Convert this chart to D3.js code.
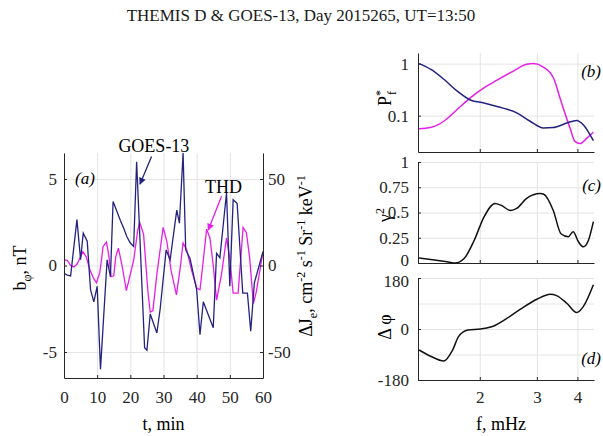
<!DOCTYPE html>
<html>
<head>
<meta charset="utf-8">
<script src="https://cdn.jsdelivr.net/npm/d3@7"></script>
<style>
  body { margin: 0; background: #fff; }
  svg { font-family: "Liberation Serif", "Times New Roman", serif; }
  .grid line { stroke: #e4e4e4; stroke-width: 1; }
  .grid .domain { display: none; }
  .axis .domain, .axis line { stroke: #262626; }
  .axis text { font-size: 17px; fill: #262626; font-family: "Liberation Serif", serif; }
</style>
</head>
<body>
<div id="chart"></div>
<script>
// panel (a): GOES-13 b_phi (nT) and THD electron flux (right axis)
const goesT = [0, 1, 2, 3.9, 5, 5.8, 7, 8, 9, 10, 11, 13, 14, 14.8, 16, 17, 18, 19, 20, 21, 21.9, 24.3, 25, 26, 28, 29, 30.8, 32, 34, 34.8, 35.9, 36.7, 38, 39, 40, 41, 42, 45, 46, 47, 49, 50, 51, 52.2, 53.9, 55.3, 56.3, 57.4, 60];
const goesB = [-0.45, -0.55, -0.6, 2.65, 0.33, 1.87, 1.4, -1.4, -2.1, -1.2, -6.0, 0.33, -0.65, 3.7, 3.1, 2.6, 2.15, 1.65, 1.3, 1.1, 6.0, -4.75, -4.9, -2.8, -3.9, -2.5, 0.9, 0.33, 3.2, 2.45, 6.5, 0.9, 0.4, -0.5, -1.4, -4.0, -2.1, -3.6, 0.7, 0.45, 4.2, -1.2, 3.8, 3.6, -1.6, -1.6, -3.8, -1.0, 0.8];
const thdT = [0, 1, 2, 3, 4, 5.7, 6.7, 7.8, 8.8, 9.8, 10.8, 11.8, 12.8, 13.5, 14.2, 15, 15.6, 16.4, 17.5, 18.8, 20, 21, 22.2, 22.8, 24, 25.3, 26, 26.8, 28, 29.9, 31, 32.3, 33.9, 35, 35.9, 37, 38.5, 40, 41, 42, 43, 44, 45, 46, 47.5, 49, 50, 51, 52.5, 54, 55, 56, 57.1, 58, 60];
const thdJ = [3.3, 3, 0, -0.8, 1, 8, 5, -2.5, -7, -10, -4, 11, 13.5, 6, -6.5, -6, 5, 10, 0, -14.5, -5, 3, 20, 25, 18, -15, -27, -26, -5, 22, 14, -3, -17, -2, 13, 9, -3, -13, -14, 3, 21, 16, 0, -20, -5, 16, 4, -16, -16, 22, 19, 4, -22, -15, 8];

// panel (b): normalised spectra
const goesSpecF = [1.30, 1.41, 1.55, 1.70, 1.87, 2.06, 2.26, 2.61, 2.86, 3.14, 3.37, 3.71, 3.98, 4.17, 4.48];
const goesSpec = [1.0, 0.78, 0.5, 0.3, 0.2, 0.175, 0.15, 0.112, 0.078, 0.058, 0.059, 0.072, 0.081, 0.067, 0.033];
const thdSpecF = [1.30, 1.41, 1.55, 1.70, 1.87, 2.06, 2.26, 2.54, 2.79, 2.93, 3.14, 3.37, 3.56, 3.81, 3.93, 4.08, 4.28, 4.48];
const thdSpec = [0.056, 0.059, 0.078, 0.13, 0.22, 0.34, 0.48, 0.72, 0.97, 1.0, 0.86, 0.54, 0.19, 0.054, 0.032, 0.029, 0.037, 0.048];

// panel (c): coherence
const cohF = [1.30, 1.45, 1.60, 1.68, 1.79, 1.92, 2.06, 2.23, 2.33, 2.49, 2.60, 2.79, 3.07, 3.15, 3.37, 3.56, 3.75, 3.88, 4.03, 4.17, 4.32, 4.48];
const coh = [0.05, 0.03, 0.01, 0.0, 0.044, 0.22, 0.455, 0.59, 0.57, 0.52, 0.54, 0.64, 0.687, 0.68, 0.52, 0.29, 0.26, 0.31, 0.21, 0.16, 0.22, 0.41];

// panel (d): phase difference
const phaseF = [1.30, 1.41, 1.55, 1.65, 1.72, 1.84, 2.01, 2.21, 2.43, 2.67, 3.00, 3.30, 3.45, 3.71, 3.98, 4.17, 4.48];
const phase = [-74, -96, -113, -74, -27, -3.5, 0, 10.6, 38, 70, 105, 123, 118, 91, 58, 79, 156];

// ticks
const tTicks = [0, 10, 20, 30, 40, 50, 60];
const bTicks = [-5, 0, 5];
const jTicks = [-50, 0, 50];
const fTicks = [2, 3, 4];
const pTicks = [0.1, 1];
const cohTicks = [0, 0.25, 0.5, 0.75, 1];
const phGrid = [-180, -90, 0, 90, 180];
const phTicks = [-180, 0, 180];

const width = 603, height = 436;
const blue = '#23237f', magenta = '#e61ee6';
const plain = d => String(d);   // hyphen minus, like the original

const svg = d3.select('#chart').append('svg')
    .attr('width', width)
    .attr('height', height);

svg.append('text')
    .attr('x', 301).attr('y', 21)
    .attr('text-anchor', 'middle')
    .style('font-size', '17px')
    .attr('fill', '#1a1a1a')
    .text('THEMIS D & GOES-13, Day 2015265, UT=13:50');

const defs = svg.append('defs');
[['headBlue', blue], ['headMag', magenta]].forEach(([id, c]) => {
    defs.append('marker')
        .attr('id', id)
        .attr('viewBox', '0 0 10 10')
        .attr('refX', 9).attr('refY', 5)
        .attr('markerWidth', 9).attr('markerHeight', 7)
        .attr('markerUnits', 'userSpaceOnUse')
        .attr('orient', 'auto')
        .append('path').attr('d', 'M0,0 L10,5 L0,10 z').attr('fill', c);
});

// ---------- panel (a) ----------
const a = {left: 64, right: 263, top: 153, bottom: 378};
const aw = a.right - a.left, ah = a.bottom - a.top;
const xT = d3.scaleLinear().domain([0, 60]).range([a.left, a.right]);
const yB = d3.scaleLinear().domain([-6.5, 6.5]).range([a.bottom, a.top]);
const yJ = d3.scaleLinear().domain([-65, 65]).range([a.bottom, a.top]);

svg.append('g').attr('class', 'grid')
    .attr('transform', `translate(0,${a.bottom})`)
    .call(d3.axisBottom(xT).tickValues(tTicks).tickSize(-ah).tickFormat(''));
svg.append('g').attr('class', 'grid')
    .attr('transform', `translate(${a.left},0)`)
    .call(d3.axisLeft(yB).tickValues(bTicks).tickSize(-aw).tickFormat(''));

const thdLine = d3.line().x(i => xT(thdT[i])).y(i => yJ(thdJ[i]));
svg.append('path')
    .attr('d', thdLine(d3.range(thdT.length)))
    .attr('fill', 'none').attr('stroke', magenta).attr('stroke-width', 1.3);

const goesLine = d3.line().x(i => xT(goesT[i])).y(i => yB(goesB[i]));
svg.append('path')
    .attr('d', goesLine(d3.range(goesT.length)))
    .attr('fill', 'none').attr('stroke', blue).attr('stroke-width', 1.3);

svg.append('g').attr('class', 'axis')
    .attr('transform', `translate(0,${a.bottom})`)
    .call(d3.axisBottom(xT).tickValues(tTicks).tickSizeInner(-3).tickSizeOuter(0)
        .tickPadding(13).tickFormat(plain));
svg.append('g').attr('class', 'axis')
    .attr('transform', `translate(${a.left},0)`)
    .call(d3.axisLeft(yB).tickValues(bTicks).tickSizeInner(-3).tickSizeOuter(0)
        .tickPadding(7).tickFormat(plain));
const rightAx = svg.append('g').attr('class', 'axis')
    .attr('transform', `translate(${a.right},0)`)
    .call(d3.axisRight(yJ).tickValues(jTicks).tickSizeInner(-3).tickSizeOuter(0)
        .tickPadding(5).tickFormat(plain));
rightAx.selectAll('.domain, line').attr('stroke', '#9a9a9a');

svg.append('text')
    .attr('x', a.left + 11).attr('y', 184)
    .style('font-size', '17px').style('font-style', 'italic')
    .text('(a)');

// annotations
svg.append('line')
    .attr('x1', xT(26.4)).attr('y1', yB(6.3))
    .attr('x2', xT(22.9)).attr('y2', yB(4.7))
    .attr('stroke', blue).attr('stroke-width', 1.3)
    .attr('marker-end', 'url(#headBlue)');
svg.append('text')
    .attr('x', xT(27.1)).attr('y', yB(6.55))
    .attr('text-anchor', 'middle')
    .style('font-size', '18px')
    .text('GOES-13');

svg.append('line')
    .attr('x1', xT(47.5)).attr('y1', yJ(40))
    .attr('x2', xT(43.5)).attr('y2', yJ(20.5))
    .attr('stroke', magenta).attr('stroke-width', 1.3)
    .attr('marker-end', 'url(#headMag)');
svg.append('text')
    .attr('x', xT(48.1)).attr('y', yJ(41.9))
    .attr('text-anchor', 'middle')
    .style('font-size', '18px')
    .text('THD');

// axis labels (a)
svg.append('text')
    .attr('x', (a.left + a.right) / 2).attr('y', 430)
    .attr('text-anchor', 'middle')
    .style('font-size', '18px')
    .text('t, min');

const bl = svg.append('text')
    .attr('transform', 'translate(26,268) rotate(-90)')
    .attr('text-anchor', 'middle')
    .style('font-size', '18px');
bl.append('tspan').text('b');
bl.append('tspan').attr('dy', 5).style('font-size', '12px').text('φ');
bl.append('tspan').attr('dy', -5).text(', nT');

const jl = svg.append('text')
    .attr('transform', 'translate(312,256) rotate(-90)')
    .attr('text-anchor', 'middle')
    .style('font-size', '18px');
jl.append('tspan').text('ΔJ');
jl.append('tspan').attr('dy', 5).style('font-size', '12px').text('e');
jl.append('tspan').attr('dy', -5).text(', cm');
jl.append('tspan').attr('dy', -7).style('font-size', '12px').text('-2');
jl.append('tspan').attr('dy', 7).text(' s');
jl.append('tspan').attr('dy', -7).style('font-size', '12px').text('-1');
jl.append('tspan').attr('dy', 7).text(' Sr');
jl.append('tspan').attr('dy', -7).style('font-size', '12px').text('-1');
jl.append('tspan').attr('dy', 7).text(' keV');
jl.append('tspan').attr('dy', -7).style('font-size', '12px').text('-1');

// ---------- right panels ----------
const r = {left: 418, right: 594};
const xF = d3.scaleLog().domain([1.29, 4.5]).range([r.left, r.right]);

function panel(top, bottom, y, gridVals, tickVals, showX) {
    svg.append('g').attr('class', 'grid')
        .attr('transform', `translate(0,${bottom})`)
        .call(d3.axisBottom(xF).tickValues(fTicks).tickSize(-(bottom - top)).tickFormat(''));
    svg.append('g').attr('class', 'grid')
        .attr('transform', `translate(${r.left},0)`)
        .call(d3.axisLeft(y).tickValues(gridVals).tickSize(-(r.right - r.left)).tickFormat(''));
    svg.append('g').attr('class', 'axis')
        .attr('transform', `translate(0,${bottom})`)
        .call(d3.axisBottom(xF).tickValues(fTicks).tickSizeInner(-3).tickSizeOuter(0)
            .tickPadding(11).tickFormat(showX ? plain : ''));
    return svg.append('g').attr('class', 'axis')
        .attr('transform', `translate(${r.left},0)`)
        .call(d3.axisLeft(y).tickValues(tickVals).tickSizeInner(-3).tickSizeOuter(0)
            .tickPadding(9).tickFormat(plain));
}

const drawCurve = (xs, ys, y, color) => {
    const line = d3.line().curve(d3.curveMonotoneX)
        .x(i => xF(xs[i])).y(i => y(ys[i]));
    svg.append('path')
        .attr('d', line(d3.range(xs.length)))
        .attr('fill', 'none').attr('stroke', color).attr('stroke-width', 1.5);
};

// (b)
const yP = d3.scaleLog().domain([0.02, 1.6]).range([152, 53]);
panel(53, 152, yP, pTicks, pTicks, false);
drawCurve(thdSpecF, thdSpec, yP, magenta);
drawCurve(goesSpecF, goesSpec, yP, blue);

// (c)
const yC = d3.scaleLinear().domain([0, 1]).range([263, 162]);
const cAx = panel(162, 263, yC, cohTicks, cohTicks, false);
drawCurve(cohF, coh, yC, '#111');
// the "0" of (c) and "180" of (d) sit very close, as in the original
cAx.selectAll('.tick text').filter(d => d === 0).attr('dy', '0.12em');

// (d)
const yD = d3.scaleLinear().domain([-180, 180]).range([380, 278]);
const dAx = panel(278, 380, yD, phGrid, phTicks, true);
drawCurve(phaseF, phase, yD, '#111');
dAx.selectAll('.tick text').filter(d => d === 180).attr('dy', '0.5em');

// panel letters
[['(b)', 77], ['(c)', 191], ['(d)', 364]].forEach(([t, y]) => {
    svg.append('text')
        .attr('x', 601).attr('y', y)
        .attr('text-anchor', 'end')
        .style('font-size', '17px').style('font-style', 'italic')
        .text(t);
});

// right panel labels
svg.append('text')
    .attr('x', (r.left + r.right) / 2 - 5).attr('y', 430)
    .attr('text-anchor', 'middle')
    .style('font-size', '18px')
    .text('f, mHz');

const pl = svg.append('text')
    .attr('transform', 'translate(391,98) rotate(-90)')
    .attr('text-anchor', 'middle')
    .style('font-size', '18px');
pl.append('tspan').text('P');
pl.append('tspan').attr('dy', -7).style('font-size', '12px').text('*');
pl.append('tspan').attr('dx', -5).attr('dy', 12).style('font-size', '12px').text('f');

const gl = svg.append('text')
    .attr('transform', 'translate(391,215) rotate(-90)')
    .attr('text-anchor', 'middle')
    .style('font-size', '18px');
gl.append('tspan').text('γ');
gl.append('tspan').attr('dy', -7).style('font-size', '12px').text('2');

svg.append('text')
    .attr('transform', 'translate(391,327) rotate(-90)')
    .attr('text-anchor', 'middle')
    .style('font-size', '18px')
    .text('Δ φ');
</script>
</body>
</html>
